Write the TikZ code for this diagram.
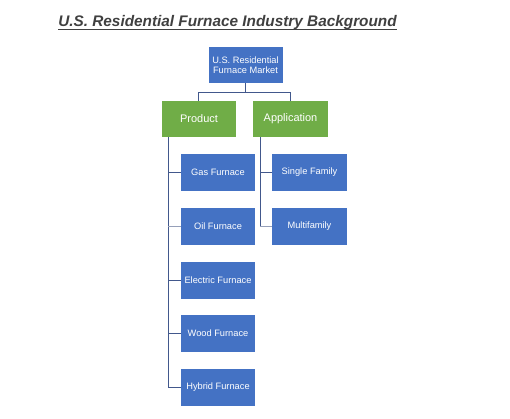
\documentclass[tikz,border=0pt]{standalone}
\usepackage{fontspec}
\setmainfont{Liberation Sans}
\usetikzlibrary{calc}
\definecolor{boxblue}{RGB}{68,114,196}
\definecolor{boxgreen}{RGB}{112,173,71}
\definecolor{linkc}{RGB}{66,88,140}
\definecolor{linkl}{RGB}{150,160,185}
\definecolor{titlec}{RGB}{64,64,64}
\tikzset{
  bluebox/.style={fill=boxblue,text=white,minimum width=74bp,minimum height=37bp,
    inner sep=1bp,align=center,font=\fontsize{9.3}{9.6}\selectfont},
  greenbox/.style={fill=boxgreen,text=white,minimum width=74bp,minimum height=36bp,
    inner sep=1bp,align=center,font=\fontsize{11}{12}\selectfont},
  link/.style={draw=linkc,line width=1.3bp},
  linklight/.style={draw=linkl,line width=1.3bp}
}
\begin{document}
\begin{tikzpicture}[x=1bp,y=-1bp,line cap=butt,line join=miter]
\useasboundingbox (0,0) rectangle (510,418);

% title, underlined by hand
\node[text=titlec,inner sep=0pt,anchor=base,font=\fontsize{15.4}{17}\selectfont\bfseries\itshape]
  (title) at (227.5,26) {U.S. Residential Furnace Industry Background};
\draw[titlec,line width=1.5bp] ($(title.base west)+(0,3.4)$) -- ($(title.base east)+(0,3.4)$);

% top of the tree
\node[bluebox,minimum height=36bp] (mkt) at (245.5,65) {U.S. Residential\\Furnace Market};

% second level
\node[greenbox] (prod) at (199,119) {Product};
\node[greenbox,minimum width=75bp] (app) at (290.5,119) {Application};

% product types
\node[bluebox] (gas)  at (218,172.5) {Gas Furnace};
\node[bluebox] (oil)  at (218,226.5) {Oil Furnace};
\node[bluebox] (elec) at (218,280.5) {Electric Furnace};
\node[bluebox] (wood) at (218,333.5) {Wood Furnace};
\node[bluebox] (hyb)  at (218,387.5) {Hybrid Furnace};

% applications
\node[bluebox,minimum width=75bp] (single) at (309.5,172.5) {Single Family};
\node[bluebox,minimum width=75bp] (multi)  at (309.5,226.5) {Multifamily};

% elbow links from the top box
\coordinate (pjoint) at ($(prod.north)+(-0.5,-8.5)$);
\coordinate (ajoint) at ($(app.north)+(0,-8.5)$);
\draw[link] (mkt.south) |- (pjoint) -- (pjoint |- prod.north);
\draw[link] (mkt.south) |- (ajoint) -- (ajoint |- app.north);

% side rails under product and application
\coordinate (prail) at ($(prod.south west)+(6.5,0)$);
\coordinate (arail) at ($(app.south west)+(7.5,0)$);
\draw[link] (prail) -- ($(prail |- hyb.west)+(0,0.65)$);
\draw[link] (arail) -- ($(arail |- multi.west)+(0,0.65)$);

% stubs into the boxes
\draw[link]      (prail |- gas.west)  -- (gas.west);
\draw[linklight] (prail |- oil.west)  -- (oil.west);
\draw[link]      (prail |- elec.west) -- (elec.west);
\draw[link]      (prail |- wood.west) -- (wood.west);
\draw[link]      (prail |- hyb.west)  -- (hyb.west);
\draw[link]      (arail |- single.west) -- (single.west);
\draw[linklight] (arail |- multi.west)  -- (multi.west);

\end{tikzpicture}
\end{document}
